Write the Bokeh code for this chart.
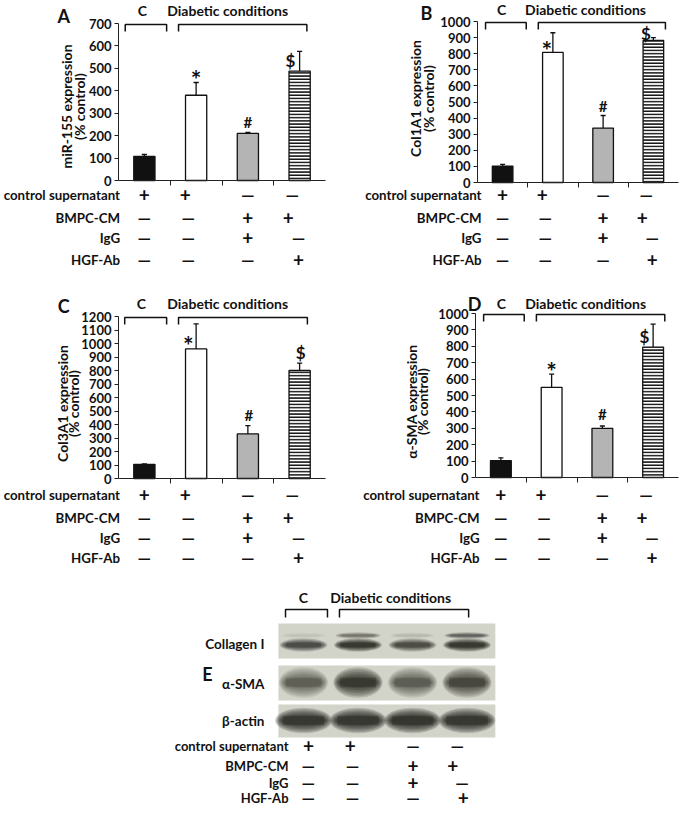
import numpy as np
from bokeh.plotting import figure
from bokeh.models import Range1d, FixedTicker, LinearAxis
from bokeh.layouts import column, row
from bokeh.embed import file_html
from bokeh.resources import INLINE
from bokeh.core.properties import value

FONT = "Lato"
TXT = "#111111"
AX = "#222222"

# ---------------- data ----------------
bar_positions = [1, 2, 3, 4]
group_names = ["C", "Diabetic conditions"]
treatment_names = ["control supernatant", "BMPC-CM", "IgG", "HGF-Ab"]
treatment_signs = [
    ["+", "+", "—", "—"],
    ["—", "—", "+", "+"],
    ["—", "—", "+", "—"],
    ["—", "—", "—", "+"],
]
bar_fills = ["#111111", "#ffffff", "#b4b4b4", "#ffffff"]
bar_hatches = [" ", " ", " ", "-"]
sig_marks = ["*", "#", "$"]

mir155_mean = [108, 380, 210, 488]
mir155_err = [8, 57, 4, 88]
mir155_sig_x = [2.0, 3.0, 3.82]
mir155_sig_y = [452, 259, 535]

col1a1_mean = [102, 808, 338, 882]
col1a1_err = [11, 122, 78, 18]
col1a1_sig_x = [1.88, 3.0, 3.85]
col1a1_sig_y = [826, 474, 926]

col3a1_mean = [105, 960, 330, 800]
col3a1_err = [3, 185, 62, 55]
col3a1_sig_x = [1.85, 3.02, 4.02]
col3a1_sig_y = [988, 469, 937]

asma_mean = [103, 550, 300, 795]
asma_err = [17, 80, 14, 140]
asma_sig_x = [2.0, 3.0, 3.83]
asma_sig_y = [651, 386, 862]

blot_lanes = [1, 2, 3, 4]
blot_proteins = ["Collagen I", "α-SMA", "β-actin"]
collagen_main = [0.72, 0.95, 0.70, 0.95]
collagen_upper = [0.04, 0.40, 0.06, 0.50]
asma_band = [0.55, 0.95, 0.58, 0.78]
actin_band = [1.0, 1.0, 0.97, 1.0]

# ---------------- layout constants ----------------
TABLE_COL_X = [[1.0, 1.79, 3.0, 3.86],
               [1.0, 1.85, 3.0, 3.78],
               [1.0, 1.85, 3.0, 3.98],
               [1.0, 1.85, 3.0, 3.98]]
PLUS_SIZE, DASH_SIZE = "19px", "17px"


def txt(p, x, y, text, size, align="center", angle=0.0, y_range_name="px"):
    p.text(x=x, y=y, text=text, text_align=align, text_baseline="middle",
           angle=angle, text_font=value(FONT), text_font_style="bold",
           text_font_size=size, text_color=TXT, y_range_name=y_range_name)


def make_bar_panel(spec, title_lines, mean, err, sig_x, sig_y):
    W, H = spec["size"]
    L, R, T, B = spec["frame"]          # plot area distances from canvas edges
    fw, fh = W - L - R, H - T - B
    ppu = fw / 4.0
    ymax = spec["ymax"]
    ypp = ymax / fh
    p = figure(width=W, height=H, title=None,
               x_range=Range1d(0.5 - L / ppu, 4.5 + R / ppu),
               y_range=Range1d(-B * ypp, ymax + T * ypp),
               x_axis_type=None, y_axis_type=None,
               output_backend="svg", toolbar_location=None, min_border=0)
    p.extra_y_ranges = {"px": Range1d(start=H, end=0)}   # canvas px from top
    p.outline_line_color = None
    p.background_fill_color = "white"
    p.border_fill_color = "white"

    yax = LinearAxis(fixed_location=0.5, bounds=(0, ymax),
                     ticker=FixedTicker(ticks=list(range(0, ymax + 1, 100))))
    yax.minor_tick_line_color = None
    yax.major_tick_in = 0
    yax.major_tick_out = 4
    yax.axis_line_color = AX
    yax.major_tick_line_color = AX
    yax.major_label_text_font = FONT
    yax.major_label_text_font_style = "bold"
    yax.major_label_text_font_size = "13px"
    yax.major_label_text_color = TXT
    yax.major_label_standoff = 3
    p.add_layout(yax, "left")

    xax = LinearAxis(fixed_location=0, bounds=(0.5, 4.5),
                     ticker=FixedTicker(ticks=[], minor_ticks=[1.5, 2.5, 3.5]))
    xax.major_tick_line_color = None
    xax.minor_tick_in = 0
    xax.minor_tick_out = 5
    xax.minor_tick_line_color = AX
    xax.axis_line_color = AX
    p.add_layout(xax, "below")

    # bars
    p.vbar(x=bar_positions, top=mean, bottom=0, width=0.41,
           fill_color=bar_fills, line_color="#111111", line_width=1.3,
           hatch_pattern=bar_hatches, hatch_color="#111111",
           hatch_scale=3.2, hatch_weight=1.7)
    # error bars (upper only)
    tops = [m + e for m, e in zip(mean, err)]
    p.segment(x0=bar_positions, y0=mean, x1=bar_positions, y1=tops,
              line_color="#111111", line_width=1.3)
    p.segment(x0=[x - 0.05 for x in bar_positions], y0=tops,
              x1=[x + 0.05 for x in bar_positions], y1=tops,
              line_color="#111111", line_width=1.3)
    # significance marks
    p.text(x=sig_x, y=sig_y, text=sig_marks,
           text_align="center", text_baseline="middle",
           text_font=value(FONT), text_font_style="bold",
           text_font_size=["25px", "15px", "17px"], text_color=TXT)

    # y title (two rotated lines)
    tx = [0.5 + d / ppu for d in spec["title_dx"]]
    txt(p, tx, [spec["title_y"]] * 2, title_lines, "14px", angle=np.pi / 2)

    # brackets
    bx = spec["brackets"]
    by = [T + 8, T + 1, T + 1, T + 8]
    p.multi_line(xs=[[bx[0], bx[0], bx[1], bx[1]], [bx[2], bx[2], bx[3], bx[3]]],
                 ys=[by, by], y_range_name="px",
                 line_color="#111111", line_width=1.5)

    # group labels + panel letter
    txt(p, [spec["c_x"], spec["diab_x"]], [spec["group_y"]] * 2, group_names, "14px")
    txt(p, [spec["letter_x"]], [spec["letter_y"]], [spec["letter"]], "18px")

    # treatment table
    rows_y = spec["rows"]
    txt(p, [spec["rowlabel_x"]] * 4, rows_y, treatment_names, "13.3px", align="right")
    sx, sy, st, ss = [], [], [], []
    for r in range(4):
        for c in range(4):
            sx.append(TABLE_COL_X[r][c])
            sy.append(rows_y[r])
            st.append(treatment_signs[r][c])
            ss.append(PLUS_SIZE if treatment_signs[r][c] == "+" else DASH_SIZE)
    txt(p, sx, sy, st, ss)
    return p


specA = dict(size=(345, 290), frame=(118, 20, 23, 110), ymax=700, letter="A",
             letter_x=-0.56, letter_y=15, group_y=10, c_x=0.96, diab_x=2.61,
             brackets=[0.63, 1.43, 1.66, 4.14], rowlabel_x=0.53,
             rows=[194, 217, 237, 259], title_dx=[-52, -39], title_y=106)
specB = dict(size=(336, 290), frame=(132, 3, 21, 108), ymax=1000, letter="B",
             letter_x=-0.515, letter_y=12, group_y=9, c_x=0.98, diab_x=2.65,
             brackets=[0.66, 1.47, 1.71, 4.24], rowlabel_x=0.58,
             rows=[194, 217, 237, 259], title_dx=[-62, -49.5], title_y=98)
specC = dict(size=(345, 290), frame=(118, 20, 26, 102), ymax=1200, letter="C",
             letter_x=-0.56, letter_y=15, group_y=13, c_x=0.94, diab_x=2.61,
             brackets=[0.62, 1.43, 1.66, 4.15], rowlabel_x=0.53,
             rows=[204, 227, 247, 267], title_dx=[-56, -45], title_y=113)
specD = dict(size=(336, 290), frame=(130, 3, 23, 103), ymax=1000, letter="D",
             letter_x=0.48, letter_y=13, group_y=13, c_x=1.01, diab_x=2.67,
             brackets=[0.66, 1.46, 1.70, 4.23], rowlabel_x=0.58,
             rows=[204, 227, 247, 267], title_dx=[-64, -53], title_y=111)

pA = make_bar_panel(specA, ["miR-155 expression", "(% control)"], mir155_mean, mir155_err, mir155_sig_x, mir155_sig_y)
pB = make_bar_panel(specB, ["Col1A1 expression", "(% control)"], col1a1_mean, col1a1_err, col1a1_sig_x, col1a1_sig_y)
pC = make_bar_panel(specC, ["Col3A1 expression", "(% control)"], col3a1_mean, col3a1_err, col3a1_sig_x, col3a1_sig_y)
pD = make_bar_panel(specD, ["α-SMA expression", "(% control)"], asma_mean, asma_err, asma_sig_x, asma_sig_y)

# ---------------- panel E: western blot ----------------
EW, EH = 681, 228
LANE0_PX, LANE_STEP = 303.0, 54.5   # canvas px of lane 1, px per lane
pE = figure(width=EW, height=EH, title=None,
            x_range=Range1d(1 - LANE0_PX / LANE_STEP, 1 + (EW - LANE0_PX) / LANE_STEP),
            y_range=Range1d(-EH, 0), x_axis_type=None, y_axis_type=None,
            output_backend="svg", toolbar_location=None, min_border=0)
pE.outline_line_color = None
pE.extra_y_ranges = {"px": Range1d(start=EH, end=0)}

strip_top = [43, 85, 124]
strip_bot = [78, 120, 157]
pE.quad(left=0.54, right=4.52, top=[-t for t in strip_top], bottom=[-b for b in strip_bot],
        fill_color="#d2d3c9", line_color=None)

BAND = "#1b1b15"


def draw_bands(p, yc, w, h, intens, halo=1.7):
    n = 8
    for k in range(n):
        f = k / (n - 1)
        sw = 1.10 - 0.26 * f
        sh = halo - (halo - 0.5) * f
        p.ellipse(x=blot_lanes, y=[-yc] * 4, width=w * sw, height=h * sh,
                  fill_color=BAND, fill_alpha=[min(1.0, 0.17 * i) for i in intens],
                  line_color=None)
    p.rect(x=blot_lanes, y=[-yc] * 4, width=w * 0.8, height=h * 0.55,
           fill_color=BAND, fill_alpha=[min(1.0, 0.3 * i) for i in intens], line_color=None)


draw_bands(pE, 55, 0.76, 4, collagen_upper)
draw_bands(pE, 64.5, 0.80, 9, collagen_main, halo=1.5)
draw_bands(pE, 102, 0.82, 17, asma_band, halo=1.8)
draw_bands(pE, 140, 0.95, 17, actin_band, halo=1.5)

txt(pE, [0.284] * 3, [63, 103, 140], blot_proteins, "13.5px", align="right")
txt(pE, [-0.761], [93], ["E"], "18px")
txt(pE, [1.0, 2.6], [17, 17], group_names, "14px")
pE.multi_line(xs=[[0.67, 0.67, 1.44, 1.44], [1.66, 1.66, 4.03, 4.03]],
              ys=[[37, 29, 29, 37], [37, 29, 29, 37]], y_range_name="px",
              line_color="#111111", line_width=1.5)

E_ROWS = [165, 185, 202, 217]
E_COL_X = [[1.09, 1.86, 3.01, 3.82],
           [1.09, 1.90, 3.01, 3.74],
           [1.09, 1.90, 3.01, 3.91],
           [1.09, 1.90, 3.01, 3.93]]
txt(pE, [0.725] * 4, E_ROWS, treatment_names, "13px", align="right")
ex, ey, et, es = [], [], [], []
for r in range(4):
    for c in range(4):
        ex.append(E_COL_X[r][c])
        ey.append(E_ROWS[r])
        et.append(treatment_signs[r][c])
        es.append(PLUS_SIZE if treatment_signs[r][c] == "+" else DASH_SIZE)
txt(pE, ex, ey, et, es)

layout = column(row(pA, pB), row(pC, pD), pE)
open("out.html", "w").write(file_html(layout, INLINE))
